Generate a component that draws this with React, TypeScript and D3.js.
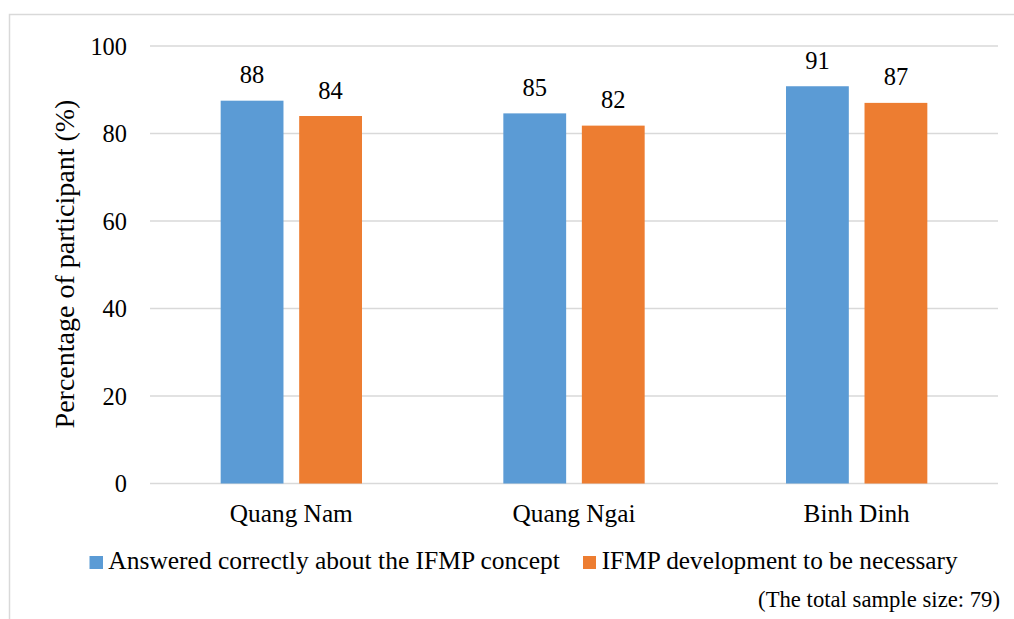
import React from "react";
import * as d3 from "d3";

const categories = ["Quang Nam", "Quang Ngai", "Binh Dinh"];
const seriesNames = ["Answered correctly about the IFMP concept", "IFMP development to be necessary"];
const answeredCorrectly = [87.5, 84.6, 90.8];
const developmentNecessary = [84.0, 81.8, 87.0];
const yTicks = [0, 20, 40, 60, 80, 100];
const colors = ["#5B9BD5", "#ED7D31"];

const FONT = "Liberation Serif, Times New Roman, serif";

export default function App() {
  const W = 1014, H = 619;
  const left = 150, right = 998, top = 46, bottom = 483.5;
  const x = d3.scaleBand<string>().domain(categories).range([left, right]).paddingInner(0.5).paddingOuter(0.25);
  const x1 = d3.scaleBand<number>().domain([0, 1]).range([0, x.bandwidth()]).paddingInner(0.2);
  const y = d3.scaleLinear().domain([0, 100]).range([bottom, top]);
  const series = [answeredCorrectly, developmentNecessary];
  const T = (p: any) => <text fontFamily={FONT} fill="#000" {...p} style={{ fontFamily: FONT }} />;
  return (
    <svg width={W} height={H} style={{ position: "absolute", left: 0, top: 0, background: "#fff" }}>
      <rect x={9.5} y={14.5} width={W + 20} height={H + 20} fill="#fff" stroke="#d9d9d9" strokeWidth={1.5} />
      {yTicks.map((t) => (
        <g key={t}>
          <line x1={left} x2={right} y1={y(t)} y2={y(t)} stroke="#d9d9d9" strokeWidth={1.5} />
          <T x={127} y={y(t)} dy="0.35em" textAnchor="end" fontSize={24.4}>{t}</T>
        </g>
      ))}
      {categories.map((c, i) => (
        <g key={c}>
          {series.map((s, j) => {
            const bx = (x(c) as number) + (x1(j) as number);
            const bw = x1.bandwidth();
            return (
              <g key={j}>
                <rect x={bx} y={y(s[i])} width={bw} height={bottom - y(s[i])} fill={colors[j]} />
                <T x={bx + bw / 2} y={y(s[i]) - 17.5} textAnchor="middle" fontSize={24.5}>{Math.round(s[i])}</T>
              </g>
            );
          })}
          <T x={(x(c) as number) + x.bandwidth() / 2} y={522} textAnchor="middle" fontSize={25.3}>{c}</T>
        </g>
      ))}
      <T transform={`translate(74,264) rotate(-90)`} textAnchor="middle" fontSize={28}>Percentage of participant (%)</T>
      <g>
        <rect x={89.5} y={556} width={13.5} height={13} fill={colors[0]} />
        <T x={108.3} y={568.5} fontSize={25.5}>{seriesNames[0]}</T>
        <rect x={583} y={556} width={13} height={13} fill={colors[1]} />
        <T x={601.7} y={568.5} fontSize={25.3}>{seriesNames[1]}</T>
      </g>
      <T x={1000} y={607} textAnchor="end" fontSize={22.7}>(The total sample size: 79)</T>
    </svg>
  );
}
